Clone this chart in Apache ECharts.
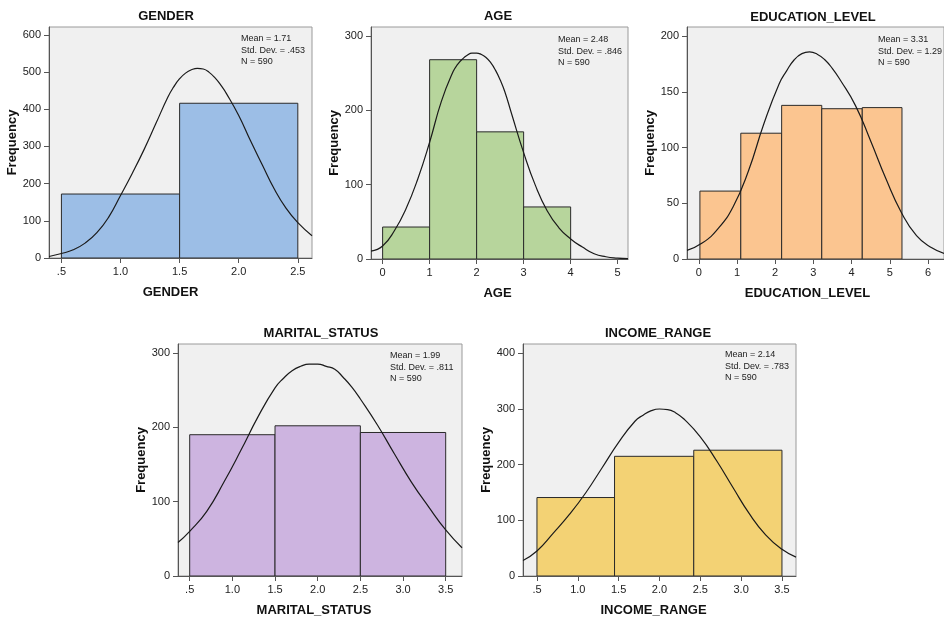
<!DOCTYPE html>
<html>
<head>
<meta charset="utf-8">
<script src="https://cdn.jsdelivr.net/npm/echarts@6/dist/echarts.min.js"></script>
<style>
html,body{margin:0;padding:0;background:#fff;}
#chart{width:944px;height:618px;}
</style>
</head>
<body>
<div id="chart"></div>
<script>
// ---------- DATA ----------
const genderEdges = [0.5, 1.5, 2.5];
const genderCounts = [172, 416];
const genderCurveX = [0.395, 0.5, 0.6, 0.7, 0.8, 0.9, 1.0, 1.1, 1.2, 1.3, 1.4, 1.45, 1.5, 1.55, 1.6, 1.65, 1.7, 1.75, 1.8, 1.85, 1.9, 2.0, 2.1, 2.2, 2.3, 2.4, 2.5, 2.62];
const genderCurveY = [4, 12, 22, 40, 68, 110, 168, 228, 292, 362, 432, 460, 482, 497, 506, 510, 508, 499, 484, 464, 440, 383, 315, 250, 186, 134, 95, 60];
const genderXTicks = [0.5, 1.0, 1.5, 2.0, 2.5];
const genderXLabels = ['.5', '1.0', '1.5', '2.0', '2.5'];
const genderYTicks = [0, 100, 200, 300, 400, 500, 600];
const genderStats = ['Mean = 1.71', 'Std. Dev. = .453', 'N = 590'];

const ageEdges = [0, 1, 2, 3, 4];
const ageCounts = [43, 268, 171, 70];
const ageCurveX = [-0.247, 0, 0.25, 0.5, 0.75, 1.0, 1.25, 1.5, 1.6, 1.7, 1.8, 1.9, 2.0, 2.1, 2.2, 2.3, 2.4, 2.5, 2.6, 2.75, 3.0, 3.25, 3.5, 3.75, 4.0, 4.25, 4.5, 4.75, 5.0, 5.22];
const ageCurveY = [10.5, 17.5, 38, 68, 108, 157, 212, 252, 262, 269, 274, 277, 277, 275, 271, 264, 254, 241, 225, 194, 143, 99, 65, 42, 27, 16, 7, 3, 1.2, 0.4];
const ageXTicks = [0, 1, 2, 3, 4, 5];
const ageXLabels = ['0', '1', '2', '3', '4', '5'];
const ageYTicks = [0, 100, 200, 300];
const ageStats = ['Mean = 2.48', 'Std. Dev. = .846', 'N = 590'];

const eduEdges = [0.03, 1.10, 2.17, 3.22, 4.28, 5.32];
const eduCounts = [61, 113, 138, 135, 136];
const eduCurveX = [-0.308, 0.1, 0.5, 0.9, 1.3, 1.7, 2.1, 2.3, 2.5, 2.7, 2.9, 3.1, 3.3, 3.5, 3.7, 4.1, 4.5, 4.9, 5.3, 5.7, 6.1, 6.42];
const eduCurveY = [7.8, 14.5, 27, 47, 79, 121, 157, 169, 179, 184.5, 186, 184, 179, 171, 161, 138, 106, 72, 42, 21, 10, 5];
const eduXTicks = [0, 1, 2, 3, 4, 5, 6];
const eduXLabels = ['0', '1', '2', '3', '4', '5', '6'];
const eduYTicks = [0, 50, 100, 150, 200];
const eduStats = ['Mean = 3.31', 'Std. Dev. = 1.29', 'N = 590'];

const maritalEdges = [0.5, 1.5, 2.5, 3.5];
const maritalCounts = [190, 202, 193];
const maritalCurveX = [0.363, 0.5, 0.7, 0.9, 1.1, 1.3, 1.5, 1.6, 1.7, 1.8, 1.9, 2.0, 2.1, 2.2, 2.3, 2.4, 2.5, 2.7, 2.9, 3.1, 3.3, 3.5, 3.691];
const maritalCurveY = [45, 60, 87, 126, 169, 214, 253, 266, 276, 282, 285, 285, 282, 278, 267, 254, 238, 203, 164, 126, 93, 62, 38];
const maritalXTicks = [0.5, 1.0, 1.5, 2.0, 2.5, 3.0, 3.5];
const maritalXLabels = ['.5', '1.0', '1.5', '2.0', '2.5', '3.0', '3.5'];
const maritalYTicks = [0, 100, 200, 300];
const maritalStats = ['Mean = 1.99', 'Std. Dev. = .811', 'N = 590'];

const incomeEdges = [0.5, 1.45, 2.42, 3.5];
const incomeCounts = [141, 215, 226];
const incomeCurveX = [0.329, 0.5, 0.7, 0.9, 1.1, 1.3, 1.5, 1.7, 1.8, 1.9, 2.0, 2.1, 2.2, 2.3, 2.5, 2.7, 2.9, 3.1, 3.3, 3.5, 3.672];
const incomeCurveY = [28, 45, 77, 111, 150, 195, 240, 278, 289, 297, 300, 299, 293, 282, 250, 207, 159, 112, 74, 48, 34];
const incomeXTicks = [0.5, 1.0, 1.5, 2.0, 2.5, 3.0, 3.5];
const incomeXLabels = ['.5', '1.0', '1.5', '2.0', '2.5', '3.0', '3.5'];
const incomeYTicks = [0, 100, 200, 300, 400];
const incomeStats = ['Mean = 2.14', 'Std. Dev. = .783', 'N = 590'];

// ---------- LAYOUT / STYLE ----------
const FONT = '"Liberation Sans", Arial, Helvetica, sans-serif';
const panels = [
  {name: 'GENDER', edges: genderEdges, counts: genderCounts, cx: genderCurveX, cy: genderCurveY,
   xTicks: genderXTicks, xLabels: genderXLabels, yTicks: genderYTicks, stats: genderStats,
   color: '#9cbee6', grid: {left: 49, top: 27, width: 263, height: 231},
   xMin: 0.395, xMax: 2.62, yMax: 621, title: [166, 16], statsPos: [241, 33],
   yGap: 23, xShift: 10},
  {name: 'AGE', edges: ageEdges, counts: ageCounts, cx: ageCurveX, cy: ageCurveY,
   xTicks: ageXTicks, xLabels: ageXLabels, yTicks: ageYTicks, stats: ageStats,
   color: '#b7d59c', grid: {left: 371, top: 27, width: 257, height: 232},
   xMin: -0.247, xMax: 5.22, yMax: 312, title: [498, 16], statsPos: [558, 34],
   yGap: 28, xShift: 2},
  {name: 'EDUCATION_LEVEL', edges: eduEdges, counts: eduCounts, cx: eduCurveX, cy: eduCurveY,
   xTicks: eduXTicks, xLabels: eduXLabels, yTicks: eduYTicks, stats: eduStats,
   color: '#fbc590', grid: {left: 687, top: 27, width: 262, height: 232},
   xMin: -0.308, xMax: 6.42, yMax: 208.4, title: [813, 17], statsPos: [878, 34],
   yGap: 26, xShift: 8},
  {name: 'MARITAL_STATUS', edges: maritalEdges, counts: maritalCounts, cx: maritalCurveX, cy: maritalCurveY,
   xTicks: maritalXTicks, xLabels: maritalXLabels, yTicks: maritalYTicks, stats: maritalStats,
   color: '#cdb4e0', grid: {left: 178, top: 344, width: 284, height: 233},
   xMin: 0.363, xMax: 3.691, yMax: 312, title: [321, 333], statsPos: [390, 350],
   yGap: 27, xShift: 6},
  {name: 'INCOME_RANGE', edges: incomeEdges, counts: incomeCounts, cx: incomeCurveX, cy: incomeCurveY,
   xTicks: incomeXTicks, xLabels: incomeXLabels, yTicks: incomeYTicks, stats: incomeStats,
   color: '#f3d274', grid: {left: 523, top: 344, width: 273, height: 232},
   xMin: 0.329, xMax: 3.672, yMax: 416.8, title: [658, 333], statsPos: [725, 349],
   yGap: 29, xShift: 6}
];

const grids = [], xAxes = [], yAxes = [], series = [], graphics = [];
panels.forEach((p, i) => {
  grids.push(Object.assign({show: true, backgroundColor: '#f0f0f0', borderColor: '#9a9a9a', borderWidth: 1, containLabel: false}, p.grid));
  xAxes.push({
    type: 'value', gridIndex: i, min: p.xMin, max: p.xMax,
    name: p.name, nameLocation: 'middle', nameGap: 28,
    nameTextStyle: {fontFamily: FONT, fontSize: 13, fontWeight: 'bold', color: '#111', padding: [0, 2 * p.xShift, 0, 0]},
    axisLine: {show: true, onZero: false, lineStyle: {color: '#555', width: 1}},
    axisTick: {show: true, length: 5, lineStyle: {color: '#555'}, customValues: p.xTicks},
    axisLabel: {fontFamily: FONT, fontSize: 11, color: '#222', margin: 8, customValues: p.xTicks,
      formatter: (v) => { const k = p.xTicks.indexOf(v); return k >= 0 ? p.xLabels[k] : ''; }},
    splitLine: {show: false}
  });
  yAxes.push({
    type: 'value', gridIndex: i, min: 0, max: p.yMax,
    name: 'Frequency', nameLocation: 'middle', nameGap: p.yGap,
    nameTextStyle: {fontFamily: FONT, fontSize: 13, fontWeight: 'bold', color: '#111'},
    axisLine: {show: true, onZero: false, lineStyle: {color: '#555', width: 1}},
    axisTick: {show: true, length: 5, lineStyle: {color: '#555'}, customValues: p.yTicks},
    axisLabel: {fontFamily: FONT, fontSize: 11, color: '#222', margin: 8, customValues: p.yTicks},
    splitLine: {show: false}
  });
  const barData = p.counts.map((c, k) => [p.edges[k], p.edges[k + 1], c]);
  series.push({
    type: 'custom', xAxisIndex: i, yAxisIndex: i, data: barData,
    encode: {x: [0, 1], y: 2}, clip: true, z: 2,
    renderItem: (params, api) => {
      const a = api.coord([api.value(0), api.value(2)]);
      const b = api.coord([api.value(1), 0]);
      return {type: 'rect', shape: {x: a[0], y: a[1], width: b[0] - a[0], height: b[1] - a[1]},
        style: {fill: p.color, stroke: '#2a2a2a', lineWidth: 1}};
    }
  });
  series.push({
    type: 'line', xAxisIndex: i, yAxisIndex: i, smooth: true, showSymbol: false, symbol: 'none',
    data: p.cx.map((x, k) => [x, p.cy[k]]), clip: true, z: 5, silent: true,
    lineStyle: {color: '#1a1a1a', width: 1.2}
  });
  graphics.push({type: 'text', x: p.title[0], y: p.title[1],
    style: {text: p.name, font: 'bold 13px ' + FONT, fill: '#111', align: 'center', verticalAlign: 'middle'}});
  graphics.push({type: 'text', x: p.statsPos[0], y: p.statsPos[1], z: 10,
    style: {text: p.stats.join('\n'), font: '9px ' + FONT, fill: '#222', lineHeight: 11.5, align: 'left', verticalAlign: 'top'}});
});

const chart = echarts.init(document.getElementById('chart'), null, {renderer: 'canvas'});
chart.setOption({
  backgroundColor: '#ffffff',
  animation: false,
  grid: grids, xAxis: xAxes, yAxis: yAxes, series: series, graphic: graphics
});
</script>
</body>
</html>
